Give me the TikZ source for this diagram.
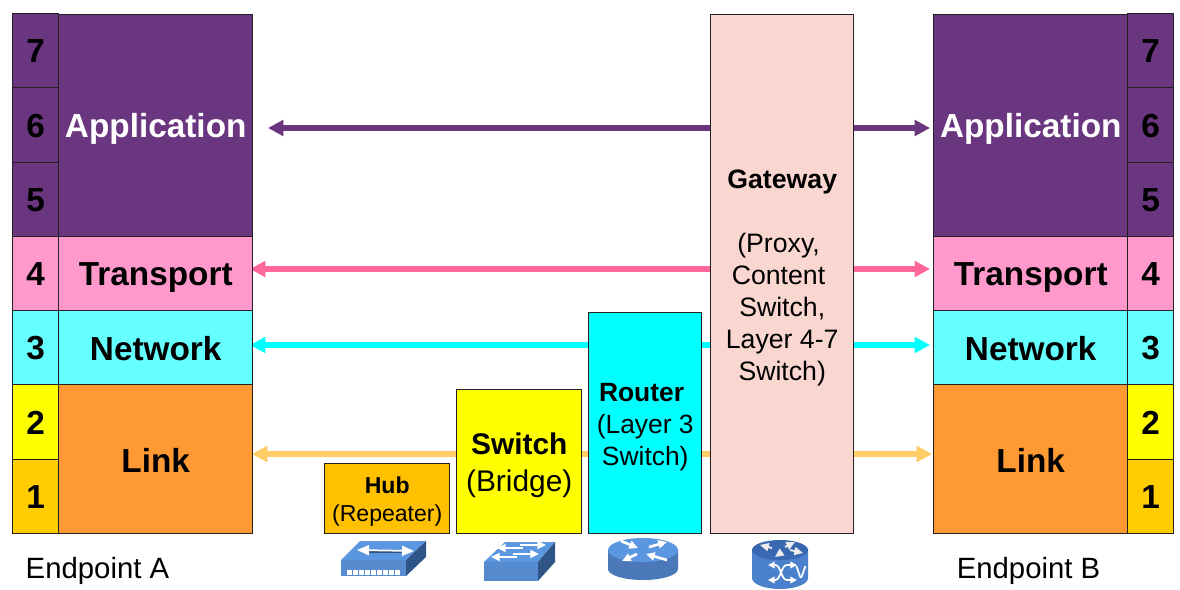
\documentclass[tikz,border=0pt]{standalone}
\usepackage{fontspec}
\setmainfont{Liberation Sans}
\usetikzlibrary{arrows.meta,backgrounds}
\definecolor{cPurple}{HTML}{6B3680}
\definecolor{cPink}{HTML}{FF99CC}
\definecolor{cCyan}{HTML}{66FFFF}
\definecolor{cOrange}{HTML}{FF9933}
\definecolor{cGold}{HTML}{FFCC00}
\definecolor{cHub}{HTML}{FFC000}
\definecolor{cGate}{HTML}{F9D6CF}
\definecolor{cYellow}{HTML}{FFFF00}
\definecolor{cAqua}{HTML}{00FFFF}
\definecolor{aPink}{HTML}{FF6699}
\definecolor{aLink}{HTML}{FFCC66}
\definecolor{iTop}{HTML}{5B97E0}
\definecolor{iFront}{HTML}{568BD0}
\definecolor{iSide}{HTML}{2F5486}
\definecolor{iWall}{HTML}{4A78B8}
\definecolor{gTop}{HTML}{3A68B0}
\definecolor{gWall}{HTML}{4A80CC}
\definecolor{edge}{HTML}{222222}
\tikzset{
  layerbox/.style 2 args={draw=edge,line width=0.8pt,anchor=north west,inner sep=0pt,outer sep=0pt,
    xshift=-0.2pt,yshift=-0.4pt,
    minimum width=#1*0.75pt,minimum height=#2*0.75pt,align=center},
  big/.style={font=\fontsize{25}{30}\selectfont\bfseries,text depth=0pt,text height=18pt},
  flow/.style={line width=3.8pt,{Triangle[length=11.5pt,width=11.5pt]}-{Triangle[length=11.5pt,width=11.5pt]}},
  iconarrow/.style={draw=white,line width=1.4pt,-{Triangle[length=6.5pt,width=6pt]}},
  caption/.style={font=\fontsize{22}{26}\selectfont},
}
\newcommand{\tailed}[1]{\mbox{#1\hspace{5.56pt}}}
\begin{document}
\begin{tikzpicture}[x=0.75pt,y=-0.75pt]
\useasboundingbox (0,0) rectangle (1180,589);
% left number column
\node[layerbox={46}{74},fill=cPurple,big] (a7) at (13,13) {7};
\node[layerbox={46}{75},fill=cPurple,big] (a6) at (13,87) {6};
\node[layerbox={46}{74},fill=cPurple,big] (a5) at (13,162) {5};
\node[layerbox={46}{74},fill=cPink,big] (a4) at (13,236) {4};
\node[layerbox={46}{74},fill=cCyan,big] (a3) at (13,310) {3};
\node[layerbox={46}{75},fill=cYellow,big] (a2) at (13,384) {2};
\node[layerbox={46}{74},fill=cGold,big] (a1) at (13,459) {1};
% left stack
\node[layerbox={194}{222},fill=cPurple,big,text=white] (appA) at (59,14) {Application};
\node[layerbox={194}{74},fill=cPink,big] (trA) at (59,236) {Transport};
\node[layerbox={194}{74},fill=cCyan,big,text height=19.5pt] (netA) at (59,310) {Network};
\node[layerbox={194}{149},fill=cOrange,big,text height=20pt] (linkA) at (59,384) {Link};
% right number column
\node[layerbox={46}{74},fill=cPurple,big] (b7) at (1128,13) {7};
\node[layerbox={46}{75},fill=cPurple,big] (b6) at (1128,87) {6};
\node[layerbox={46}{74},fill=cPurple,big] (b5) at (1128,162) {5};
\node[layerbox={46}{74},fill=cPink,big] (b4) at (1128,236) {4};
\node[layerbox={46}{74},fill=cCyan,big] (b3) at (1128,310) {3};
\node[layerbox={46}{75},fill=cYellow,big] (b2) at (1128,384) {2};
\node[layerbox={46}{74},fill=cGold,big] (b1) at (1128,459) {1};
% right stack
\node[layerbox={194}{222},fill=cPurple,big,text=white] (appB) at (934,14) {Application};
\node[layerbox={194}{74},fill=cPink,big] (trB) at (934,236) {Transport};
\node[layerbox={194}{74},fill=cCyan,big,text height=19.5pt] (netB) at (934,310) {Network};
\node[layerbox={194}{149},fill=cOrange,big,text height=20pt] (linkB) at (934,384) {Link};
% devices
\node[layerbox={125}{70},fill=cHub,font=\fontsize{17.3}{21}\selectfont] (hub) at (325,463) {\rule{0pt}{16.3pt}\textbf{Hub}\\(Repeater)};
\node[layerbox={125}{144},fill=cYellow,font=\fontsize{22.4}{28}\selectfont] (switch) at (457,389) {\rule{0pt}{21.6pt}\textbf{Switch}\\(Bridge)};
\node[layerbox={113}{221},fill=cAqua,font=\fontsize{19.8}{24}\selectfont] (router) at (589,312) {\rule{0pt}{20.5pt}\tailed{\textbf{Router}}\\(Layer 3\\Switch)};
\node[layerbox={143}{519},fill=cGate,font=\fontsize{20}{24}\selectfont] (gateway) at (711,14) {\rule{0pt}{20pt}\textbf{Gateway}\\[24pt]\tailed{(Proxy,}\\\tailed{Content}\\Switch,\\Layer 4-7\\Switch)};
% captions
\node[caption] (epA) at (97.5,571) {Endpoint A};
\node[caption] (epB) at (1028.5,571) {Endpoint B};
% connector ends
\coordinate (appL) at (268,128);
\coordinate (appR) at (930,128);
\coordinate (trL) at (250,269);
\coordinate (trR) at (930,269);
\coordinate (netL) at (250,345);
\coordinate (netR) at (930,345);
\coordinate (linkL) at (252,454);
\coordinate (linkR) at (932,454);
\begin{scope}[on background layer]
\fill[white] (0,0) rectangle (1180,589);
\draw[flow,color=cPurple] (appL) -- (appR);
\draw[flow,color=aPink] (trL) -- (trR);
\draw[flow,color=cAqua] (netL) -- (netR);
\draw[flow,color=aLink] (linkL) -- (linkR);
\end{scope}
% hub icon
\fill[iTop] (341,560) -- (406,560) -- (426,541) -- (360,541) -- cycle;
\fill[iFront] (341,560) rectangle (406,576);
\fill[iSide] (406,560) -- (426,541) -- (426,557) -- (406,576) -- cycle;
\draw[draw=iSide,line width=0.8pt] (367,552) -- (404,552);
\draw[draw=white,line width=1.3pt,{Triangle[length=9pt,width=7.5pt]}-{Triangle[length=9pt,width=7.5pt]}] (357,550) -- (414,551);
\foreach \i in {0,...,8}{\fill[white] (347.4+\i*6,569.5) rectangle ++(4.3,5);}
% switch icon
\fill[iTop] (484,562) -- (538,562) -- (555,542) -- (505,542) -- cycle;
\fill[iFront] (484,562) rectangle (538,581);
\fill[iSide] (538,562) -- (555,542) -- (555,562) -- (538,581) -- cycle;
\draw[iconarrow] (523,548) -- (497,548);
\draw[iconarrow] (520,545) -- (546,545);
\draw[iconarrow] (517,557) -- (491,557);
\draw[iconarrow] (513,554) -- (539,554);
% router icon
\fill[iWall] (608,550) -- (608,569) arc[start angle=180,end angle=360,x radius=35,y radius=-11] -- (678,550) -- cycle;
\fill[iTop] (643,550) ellipse[x radius=35,y radius=12];
\draw[iconarrow,line width=2pt] (649,547) -- (667,542);
\draw[iconarrow,line width=2pt] (637,554) -- (622,561);
\draw[iconarrow,line width=2pt] (621,541) -- (638,548);
\draw[iconarrow,line width=2pt] (667,560) -- (646,554);
% gateway icon
\fill[gWall] (752,550) -- (752,578) arc[start angle=180,end angle=360,x radius=28,y radius=-11] -- (808,550) -- cycle;
\fill[gTop] (780,550) ellipse[x radius=28,y radius=10];
\draw[iconarrow,draw=white!85!gray] (772,548) -- (760,545);
\draw[iconarrow,draw=white!85!gray] (785,547) -- (795,542);
\draw[iconarrow,draw=white!85!gray] (790,550) -- (803,553);
\draw[iconarrow,draw=white!85!gray] (782,552) -- (775,557);
\draw[white,line width=1.3pt,{Triangle[length=5pt,width=5pt]}-{Triangle[length=5pt,width=5pt]}] (768,565) -- (775,565) .. controls (781,565) and (781,580) .. (787,580) -- (797,580);
\draw[white,line width=1.3pt,{Triangle[length=5pt,width=5pt]}-{Triangle[length=5pt,width=5pt]}] (768,580) -- (775,580) .. controls (781,580) and (781,565) .. (787,565) -- (797,565);
\node[text=white,inner sep=0pt,font=\fontsize{17}{18}\selectfont] (vmark) at (801,573) {v};
\end{tikzpicture}
\end{document}
